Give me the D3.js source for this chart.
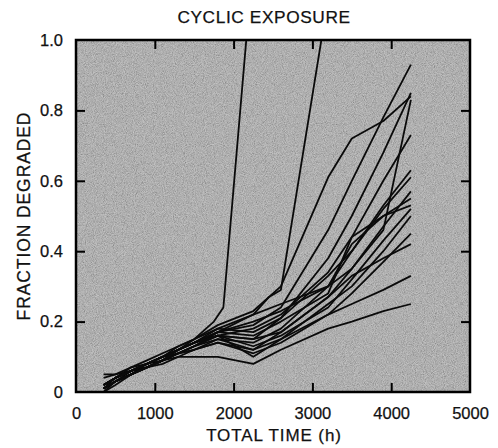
<!DOCTYPE html>
<html>
<head>
<meta charset="utf-8">
<script src="https://cdn.jsdelivr.net/npm/d3@7"></script>
<style>
  body { margin: 0; background: #fff; }
  svg { display: block; }
  text { font-family: "Liberation Sans", Arial, sans-serif; fill: #111; stroke: #111; stroke-width: 0.25; }
</style>
</head>
<body>
<div id="chart"></div>
<script>
const width = 498,
      height = 448;
const margin = { top: 40, right: 28, bottom: 56, left: 76 };

// chart values
const title = 'CYCLIC EXPOSURE';
const xLabel = 'TOTAL TIME (h)';
const yLabel = 'FRACTION DEGRADED';
const xTicks = [0, 1000, 2000, 3000, 4000, 5000];
const yTicks = [0, 0.2, 0.4, 0.6, 0.8, 1.0];

// shared measurement times (h)
const times = [350, 500, 700, 900, 1100, 1300, 1500, 1800, 2250, 2600, 3200, 3500, 3900, 4250];

// fraction degraded for each specimen at the shared times
const specimens = [
  [0.01, 0.03, 0.05, 0.07, 0.09, 0.11, 0.13, 0.17, 0.19, 0.24, 0.46, 0.60, 0.78, 0.93],
  [0.02, 0.04, 0.06, 0.08, 0.10, 0.12, 0.14, 0.16, 0.15, 0.21, 0.38, 0.50, 0.68, 0.85],
  [0.04, 0.05, 0.07, 0.09, 0.11, 0.13, 0.15, 0.19, 0.23, 0.30, 0.61, 0.72, 0.77, 0.84],
  [0.00, 0.03, 0.06, 0.07, 0.09, 0.12, 0.14, 0.17, 0.20, 0.23, 0.30, 0.35, 0.46, 0.83],
  [0.02, 0.04, 0.06, 0.08, 0.10, 0.11, 0.13, 0.16, 0.18, 0.22, 0.34, 0.44, 0.60, 0.73],
  [0.01, 0.03, 0.05, 0.08, 0.09, 0.11, 0.13, 0.15, 0.14, 0.18, 0.30, 0.40, 0.53, 0.63],
  [0.02, 0.04, 0.07, 0.08, 0.10, 0.12, 0.14, 0.18, 0.17, 0.21, 0.33, 0.40, 0.52, 0.61],
  [0.01, 0.04, 0.06, 0.07, 0.09, 0.11, 0.12, 0.15, 0.12, 0.17, 0.27, 0.35, 0.47, 0.57],
  [0.05, 0.05, 0.06, 0.08, 0.10, 0.13, 0.15, 0.18, 0.22, 0.25, 0.30, 0.42, 0.50, 0.55],
  [0.02, 0.04, 0.06, 0.08, 0.10, 0.12, 0.14, 0.17, 0.16, 0.20, 0.28, 0.44, 0.50, 0.53],
  [0.01, 0.03, 0.05, 0.07, 0.09, 0.11, 0.13, 0.16, 0.13, 0.16, 0.24, 0.32, 0.43, 0.52],
  [0.02, 0.04, 0.06, 0.08, 0.10, 0.12, 0.14, 0.16, 0.10, 0.15, 0.25, 0.30, 0.40, 0.50],
  [0.01, 0.03, 0.05, 0.07, 0.08, 0.10, 0.12, 0.14, 0.11, 0.14, 0.22, 0.28, 0.37, 0.45],
  [0.02, 0.04, 0.06, 0.08, 0.10, 0.12, 0.14, 0.16, 0.15, 0.17, 0.27, 0.33, 0.38, 0.42],
  [0.01, 0.03, 0.05, 0.07, 0.09, 0.11, 0.12, 0.14, 0.12, 0.15, 0.22, 0.25, 0.29, 0.33],
  [0.00, 0.02, 0.05, 0.07, 0.09, 0.10, 0.10, 0.10, 0.08, 0.12, 0.18, 0.20, 0.23, 0.25]
];

// the two specimens that failed early, with their own times
const earlyTimesA = [350, 500, 700, 900, 1100, 1300, 1500, 1750, 1870, 2180];
const earlyValsA  = [0.02, 0.04, 0.06, 0.08, 0.10, 0.12, 0.15, 0.20, 0.24, 1.05];
const earlyTimesB = [350, 500, 700, 900, 1100, 1300, 1500, 1800, 2250, 2450, 2600, 3150];
const earlyValsB  = [0.01, 0.03, 0.05, 0.07, 0.09, 0.12, 0.14, 0.17, 0.22, 0.27, 0.29, 1.05];

const series = specimens.map(vals => times.map((t, i) => [t, vals[i]]));
series.push(earlyTimesA.map((t, i) => [t, earlyValsA[i]]));
series.push(earlyTimesB.map((t, i) => [t, earlyValsB[i]]));

const svg = d3.select('#chart').append('svg')
  .attr('width', width)
  .attr('height', height);

const iw = width - margin.left - margin.right,
      ih = height - margin.top - margin.bottom;

const x = d3.scaleLinear().domain([0, 5000]).range([margin.left, margin.left + iw]);
const y = d3.scaleLinear().domain([0, 1]).range([margin.top + ih, margin.top]);

// grainy grey panel
const defs = svg.append('defs');
const noise = defs.append('filter').attr('id', 'grain')
  .attr('x', 0).attr('y', 0).attr('width', 1).attr('height', 1);
noise.append('feTurbulence')
  .attr('type', 'fractalNoise')
  .attr('baseFrequency', 1.1)
  .attr('numOctaves', 2)
  .attr('seed', 3);
noise.append('feColorMatrix')
  .attr('type', 'matrix')
  .attr('values', '1 0 0 0 0  1 0 0 0 0  1 0 0 0 0  0 0 0 0 0.45');

defs.append('clipPath').attr('id', 'clip')
  .append('rect')
  .attr('x', margin.left).attr('y', margin.top)
  .attr('width', iw).attr('height', ih);

svg.append('rect')
  .attr('x', margin.left).attr('y', margin.top)
  .attr('width', iw).attr('height', ih)
  .attr('fill', '#a4a4a4');
svg.append('rect')
  .attr('x', margin.left).attr('y', margin.top)
  .attr('width', iw).attr('height', ih)
  .attr('fill', '#fff')
  .attr('filter', 'url(#grain)');

// specimen curves
const line = d3.line().x(d => x(d[0])).y(d => y(d[1]));
svg.append('g')
  .attr('clip-path', 'url(#clip)')
  .selectAll('path')
  .data(series)
  .join('path')
  .attr('d', line)
  .attr('fill', 'none')
  .attr('stroke', '#0a0a0a')
  .attr('stroke-width', 1.8)
  .attr('stroke-linejoin', 'round');

// inward ticks on all four sides
const tickLen = 9;
const axisStyle = g => {
  g.select('.domain').remove();
  g.selectAll('.tick line').attr('stroke', '#000').attr('stroke-width', 2);
};

svg.append('g')
  .attr('transform', `translate(0,${margin.top + ih})`)
  .call(d3.axisBottom(x).tickValues(xTicks).tickSize(-tickLen).tickPadding(tickLen + 6).tickFormat(d3.format('d')))
  .call(axisStyle)
  .call(g => g.selectAll('.tick text').attr('font-size', 16.5).attr('fill', '#111'))
  .call(g => g.selectAll('.tick line').filter(d => d === 0 || d === 5000).remove());

svg.append('g')
  .attr('transform', `translate(0,${margin.top})`)
  .call(d3.axisTop(x).tickValues(xTicks.slice(1, -1)).tickSize(-tickLen).tickFormat(''))
  .call(axisStyle);

svg.append('g')
  .attr('transform', `translate(${margin.left},0)`)
  .call(d3.axisLeft(y).tickValues(yTicks).tickSize(-tickLen).tickPadding(tickLen + 4)
    .tickFormat(d => d === 0 ? '0' : d3.format('.1f')(d)))
  .call(axisStyle)
  .call(g => g.selectAll('.tick text').attr('font-size', 16.5).attr('fill', '#111'))
  .call(g => g.selectAll('.tick line').filter(d => d === 0 || d === 1).remove());

svg.append('g')
  .attr('transform', `translate(${margin.left + iw},0)`)
  .call(d3.axisRight(y).tickValues(yTicks.slice(1, -1)).tickSize(-tickLen).tickFormat(''))
  .call(axisStyle);

// frame
svg.append('rect')
  .attr('x', margin.left).attr('y', margin.top)
  .attr('width', iw).attr('height', ih)
  .attr('fill', 'none')
  .attr('stroke', '#000')
  .attr('stroke-width', 2.5);

// titles
svg.append('text')
  .attr('x', 264)
  .attr('y', 23)
  .attr('text-anchor', 'middle')
  .attr('font-size', 17.3)
  .attr('letter-spacing', 0.6)
  .text(title);

svg.append('text')
  .attr('x', 274)
  .attr('y', 441)
  .attr('text-anchor', 'middle')
  .attr('font-size', 17)
  .attr('letter-spacing', 0.9)
  .text(xLabel);

svg.append('text')
  .attr('transform', `translate(30,${margin.top + ih / 2}) rotate(-90)`)
  .attr('text-anchor', 'middle')
  .attr('font-size', 17.5)
  .attr('letter-spacing', 0.9)
  .text(yLabel);
</script>
</body>
</html>
